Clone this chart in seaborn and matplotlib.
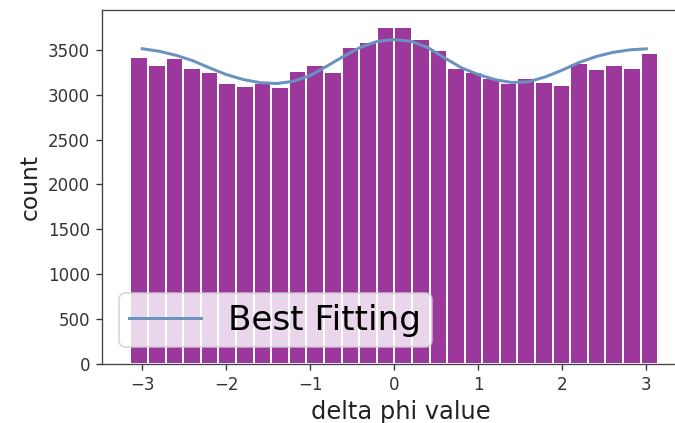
import matplotlib
matplotlib.use("Agg")
import matplotlib.pyplot as plt
import numpy as np
import pandas as pd
import seaborn as sns

# histogram counts per bin (30 bins over -pi..pi)
counts = [3426, 3333, 3408, 3303, 3248, 3136, 3092, 3129, 3081, 3268,
          3333, 3248, 3530, 3585, 3753, 3753, 3623, 3500, 3296, 3259,
          3185, 3129, 3185, 3147, 3110, 3352, 3285, 3333, 3296, 3464]

# fitted curve
fit_x = [-3.0, -2.8, -2.6, -2.4, -2.2, -2.0, -1.8, -1.6, -1.4, -1.2, -1.0,
         -0.8, -0.6, -0.4, -0.2, 0.0, 0.2, 0.4, 0.6, 0.8, 1.0,
         1.2, 1.4, 1.6, 1.8, 2.0, 2.2, 2.4, 2.6, 2.8, 3.0]
fit_y = [3513, 3485, 3440, 3380, 3300, 3225, 3170, 3135, 3125, 3150, 3215,
         3320, 3430, 3530, 3595, 3615, 3595, 3525, 3410, 3300, 3225,
         3168, 3136, 3145, 3200, 3275, 3360, 3425, 3472, 3500, 3512]

edges = np.linspace(-np.pi, np.pi, len(counts) + 1)
df = pd.DataFrame({"phi": (edges[:-1] + edges[1:]) / 2, "n": counts})

fig = plt.figure(figsize=(675 / 120, 423 / 120), dpi=120)
# right side of the axes runs off the image, as in the cropped original
ax = fig.add_axes([0.151, 0.1395, 0.885, 0.837])

sns.histplot(data=df, x="phi", weights="n", bins=list(edges), color="purple",
             edgecolor="white", linewidth=1.2, alpha=0.78, ax=ax)
sns.lineplot(x=fit_x, y=fit_y, color="#6a92c0", lw=1.8, label="Best Fitting", ax=ax)

ax.set_xlim(-3.48, 3.63)
ax.set_ylim(0, 3945)
ax.set_xlabel("delta phi value", fontsize=14.5, color="#222222")
ax.set_ylabel("count", fontsize=14, color="#222222")
ax.tick_params(labelsize=10, colors="#333333")
for s in ax.spines.values():
    s.set_color("#444444")
ax.legend(loc="lower left", fontsize=20.5, handlelength=2.1, borderpad=0.3)

fig.savefig("out.png", dpi=120)
